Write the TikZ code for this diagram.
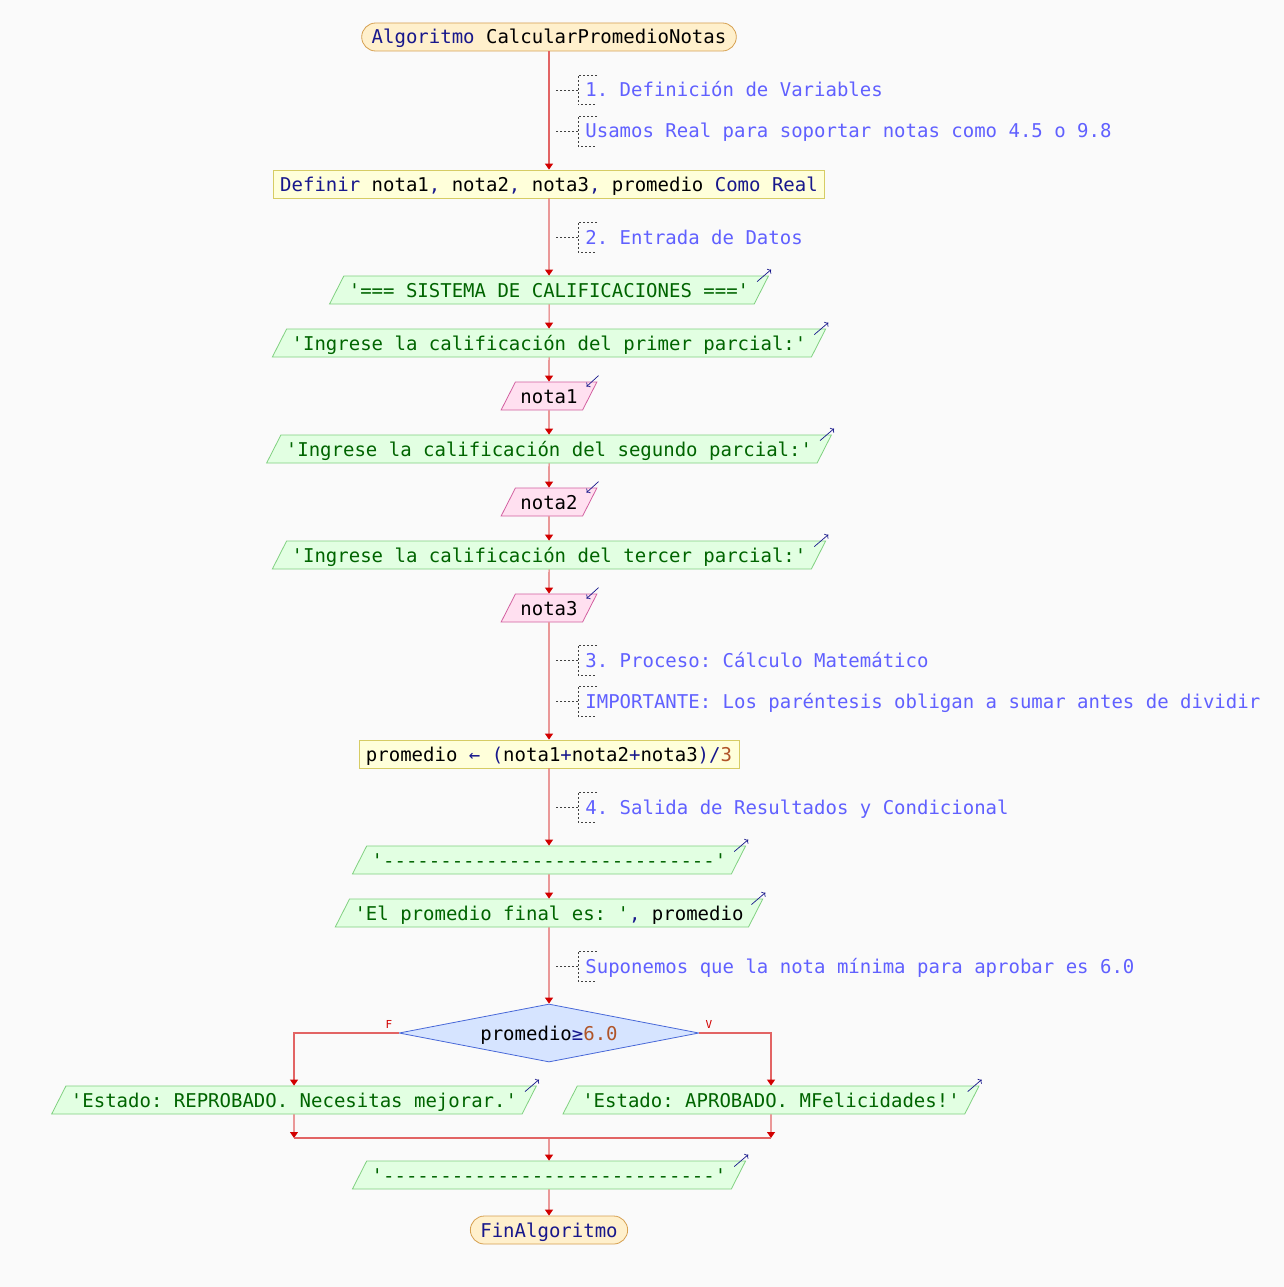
\documentclass[tikz,border=0pt]{standalone}
\usepackage{fontspec}
\setmonofont{DejaVu Sans Mono}
\usetikzlibrary{shapes.geometric,arrows.meta}

\definecolor{kw}{RGB}{24,24,140}
\definecolor{str}{RGB}{0,100,0}
\definecolor{cmt}{RGB}{96,96,255}
\definecolor{num}{RGB}{176,84,40}
\definecolor{bg}{RGB}{250,250,250}
\definecolor{termfill}{RGB}{255,240,204}
\definecolor{termline}{RGB}{214,160,80}
\definecolor{procfill}{RGB}{255,255,218}
\definecolor{procline}{RGB}{214,204,100}
\definecolor{outfill}{RGB}{226,255,226}
\definecolor{outline}{RGB}{128,208,128}
\definecolor{infill}{RGB}{255,224,240}
\definecolor{inline}{RGB}{210,96,160}
\definecolor{decfill}{RGB}{214,228,255}
\definecolor{decline}{RGB}{72,104,216}
\definecolor{flowline}{RGB}{226,100,100}
\definecolor{flowtip}{RGB}{210,0,0}

\tikzset{
  base/.style={font=\ttfamily\fontsize{19}{22}\selectfont, text height=16pt, text depth=2pt,
    inner ysep=5pt, minimum height=28pt, line width=0.8pt},
  terminal/.style={base, draw=termline, fill=termfill, rounded corners=14pt, inner xsep=10pt},
  process/.style={base, draw=procline, fill=procfill, inner xsep=7pt},
  output/.style={base, trapezium, trapezium left angle=63, trapezium right angle=117,
    draw=outline, fill=outfill, inner xsep=5pt, text=str},
  input/.style={output, draw=inline, fill=infill, text=black},
  decision/.style={base, diamond, draw=decline, fill=decfill, minimum width=300pt,
    minimum height=58pt, aspect=5.2, inner sep=0pt},
  comment/.style={base, anchor=west, inner xsep=7pt, minimum height=29pt, text=cmt},
  cmtline/.style={draw=black!75, line width=0.8pt, dash pattern=on 2pt off 2pt},
  flow/.style={draw=flowline, line width=1.1pt, -{Triangle[length=6pt,width=8pt,color=flowtip]}},
  ioarrow/.style={draw=kw, line width=0.7pt, -{To[length=3pt]}},
  branch/.style={font=\ttfamily\fontsize{11}{12}\selectfont, text=flowtip},
}

\begin{document}
\begin{tikzpicture}[x=1pt,y=-1pt]
  \fill[bg] (0,0) rectangle (1284,1287);
  \useasboundingbox (0,0) rectangle (1284,1287);

  % flow nodes
  \node[terminal] (inicio) at (549,37) {\textcolor{kw}{Algoritmo} CalcularPromedioNotas};
  \node[process] (def) at (549,184) {\textcolor{kw}{Definir} nota1\textcolor{kw}{,} nota2\textcolor{kw}{,} nota3\textcolor{kw}{,} promedio \textcolor{kw}{Como Real}};
  \node[output] (sis) at (549,290) {'=== SISTEMA DE CALIFICACIONES ==='};
  \node[output] (ing1) at (549,343) {'Ingrese la calificación del primer parcial:'};
  \node[input] (nota1) at (549,396) {nota1};
  \node[output] (ing2) at (549,449) {'Ingrese la calificación del segundo parcial:'};
  \node[input] (nota2) at (549,502) {nota2};
  \node[output] (ing3) at (549,555) {'Ingrese la calificación del tercer parcial:'};
  \node[input] (nota3) at (549,608) {nota3};
  \node[process] (calc) at (549,754) {promedio \textcolor{kw}{← (}nota1\textcolor{kw}{+}nota2\textcolor{kw}{+}nota3\textcolor{kw}{)/}\textcolor{num}{3}};
  \node[output] (sep1) at (549,860) {'-----------------------------'};
  \node[output] (final) at (549,913) {'El promedio final es: '\textcolor{kw}{,} \textcolor{black}{promedio}};
  \node[decision] (dec) at (549,1033) {promedio\textcolor{kw}{≥}\textcolor{num}{6.0}};
  \node[output] (rep) at (294,1100) {'Estado: REPROBADO. Necesitas mejorar.'};
  \node[output] (apr) at (771,1100) {'Estado: APROBADO. MFelicidades!'};
  \node[output] (sep2) at (549,1175) {'-----------------------------'};
  \node[terminal] (fin) at (549,1230) {\textcolor{kw}{FinAlgoritmo}};

  % comments
  \node[comment] (c1) at (578,90) {1. Definición de Variables};
  \node[comment] (c2) at (578,131) {Usamos Real para soportar notas como 4.5 o 9.8};
  \node[comment] (c3) at (578,237) {2. Entrada de Datos};
  \node[comment] (c4) at (578,660) {3. Proceso: Cálculo Matemático};
  \node[comment] (c5) at (578,701) {IMPORTANTE: Los paréntesis obligan a sumar antes de dividir};
  \node[comment] (c6) at (578,807) {4. Salida de Resultados y Condicional};
  \node[comment] (c7) at (578,966) {Suponemos que la nota mínima para aprobar es 6.0};

  \draw[cmtline] ([xshift=19pt]c1.north west) -| (c1.south west) -- ++(19,0) (c1.west) -- ++(-23,0);
  \draw[cmtline] ([xshift=19pt]c2.north west) -| (c2.south west) -- ++(19,0) (c2.west) -- ++(-23,0);
  \draw[cmtline] ([xshift=19pt]c3.north west) -| (c3.south west) -- ++(19,0) (c3.west) -- ++(-23,0);
  \draw[cmtline] ([xshift=19pt]c4.north west) -| (c4.south west) -- ++(19,0) (c4.west) -- ++(-23,0);
  \draw[cmtline] ([xshift=19pt]c5.north west) -| (c5.south west) -- ++(19,0) (c5.west) -- ++(-23,0);
  \draw[cmtline] ([xshift=19pt]c6.north west) -| (c6.south west) -- ++(19,0) (c6.west) -- ++(-23,0);
  \draw[cmtline] ([xshift=19pt]c7.north west) -| (c7.south west) -- ++(19,0) (c7.west) -- ++(-23,0);

  % in/out marks
  \draw[ioarrow] ([shift={(-12,6)}]sis.top right corner) -- ++(14,-12);
  \draw[ioarrow] ([shift={(-12,6)}]ing1.top right corner) -- ++(14,-12);
  \draw[ioarrow] ([shift={(1,-6)}]nota1.top right corner) -- ++(-12,11);
  \draw[ioarrow] ([shift={(-12,6)}]ing2.top right corner) -- ++(14,-12);
  \draw[ioarrow] ([shift={(1,-6)}]nota2.top right corner) -- ++(-12,11);
  \draw[ioarrow] ([shift={(-12,6)}]ing3.top right corner) -- ++(14,-12);
  \draw[ioarrow] ([shift={(1,-6)}]nota3.top right corner) -- ++(-12,11);
  \draw[ioarrow] ([shift={(-12,6)}]sep1.top right corner) -- ++(14,-12);
  \draw[ioarrow] ([shift={(-12,6)}]final.top right corner) -- ++(14,-12);
  \draw[ioarrow] ([shift={(-12,6)}]rep.top right corner) -- ++(14,-12);
  \draw[ioarrow] ([shift={(-12,6)}]apr.top right corner) -- ++(14,-12);
  \draw[ioarrow] ([shift={(-12,6)}]sep2.top right corner) -- ++(14,-12);

  % connectors
  \draw[flow] (inicio.south) -- (def.north);
  \draw[flow] (def.south) -- (sis.north);
  \draw[flow] (sis.south) -- (ing1.north);
  \draw[flow] (ing1.south) -- (nota1.north);
  \draw[flow] (nota1.south) -- (ing2.north);
  \draw[flow] (ing2.south) -- (nota2.north);
  \draw[flow] (nota2.south) -- (ing3.north);
  \draw[flow] (ing3.south) -- (nota3.north);
  \draw[flow] (nota3.south) -- (calc.north);
  \draw[flow] (calc.south) -- (sep1.north);
  \draw[flow] (sep1.south) -- (final.north);
  \draw[flow] (final.south) -- (dec.north);
  \draw[flow] (dec.west) -| (rep.north);
  \draw[flow] (dec.east) -| (apr.north);
  \node[branch] (lblF) at (389,1024) {F};
  \node[branch] (lblV) at (709,1024) {V};

  \coordinate (mL) at (294,1138);
  \coordinate (mR) at (771,1138);
  \coordinate (mC) at (549,1138);
  \draw[flow] (rep.south) -- (mL);
  \draw[flow] (apr.south) -- (mR);
  \draw[draw=flowline, line width=1.1pt] (mL) -- (mR);
  \draw[flow] (mC) -- (sep2.north);
  \draw[flow] (sep2.south) -- (fin.north);
\end{tikzpicture}
\end{document}
